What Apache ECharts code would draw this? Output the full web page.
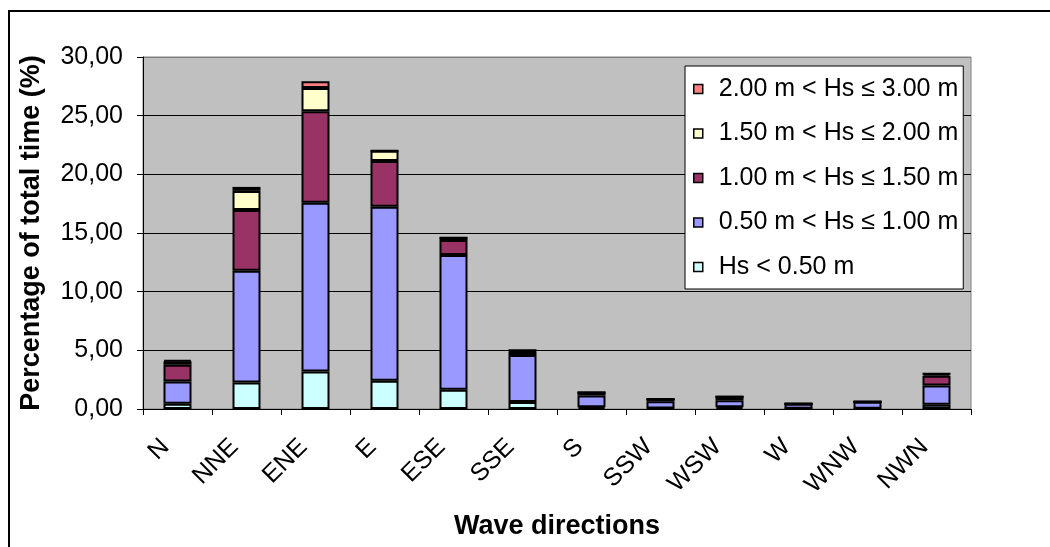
<!DOCTYPE html>
<html>
<head>
<meta charset="utf-8">
<script src="https://cdn.jsdelivr.net/npm/echarts@6/dist/echarts.min.js"></script>
<style>
  html, body { margin: 0; padding: 0; background: #fff; }
  #chart { width: 1050px; height: 547px; }
</style>
</head>
<body>
<div id="chart"></div>
<script>
// Wave direction sectors
const directions = ['N', 'NNE', 'ENE', 'E', 'ESE', 'SSE', 'S', 'SSW', 'WSW', 'W', 'WNW', 'NWN'];

// Percentage of total time per significant wave height class
const hsBelow050  = [0.45, 2.26, 3.20, 2.41, 1.64, 0.60, 0.15, 0.05, 0.15, 0.03, 0.02, 0.37];
const hs050to100  = [1.90, 9.53, 14.37, 14.82, 11.48, 4.00, 1.00, 0.60, 0.60, 0.42, 0.60, 1.63];
const hs100to150  = [1.42, 5.16, 7.80, 3.91, 1.28, 0.30, 0.25, 0.20, 0.30, 0, 0, 0.83];
const hs150to200  = [0.30, 1.64, 1.98, 0.86, 0.20, 0.10, 0, 0, 0, 0, 0, 0.17];
const hs200to300  = [0.10, 0.34, 0.59, 0, 0, 0, 0, 0, 0, 0, 0, 0];

const classNames = [
  'Hs < 0.50 m',
  '0.50 m < Hs \u2264 1.00 m',
  '1.00 m < Hs \u2264 1.50 m',
  '1.50 m < Hs \u2264 2.00 m',
  '2.00 m < Hs \u2264 3.00 m'
];
const classColors = ['#CCFFFF', '#9999FF', '#993366', '#FFFFCC', '#FF8080'];
const classValues = [hsBelow050, hs050to100, hs100to150, hs150to200, hs200to300];

const yTicks = [0, 5, 10, 15, 20, 25, 30];

const FONT = '"Liberation Sans", Arial, sans-serif';

const chart = echarts.init(document.getElementById('chart'), null, { renderer: 'canvas' });

const series = classNames.map((name, i) => ({
  name: name,
  type: 'bar',
  stack: 'total',
  barWidth: 28,
  data: classValues[i],
  itemStyle: { color: classColors[i], borderColor: '#000', borderWidth: 2 },
  emphasis: { disabled: true }
}));

chart.setOption({
  animation: false,
  backgroundColor: '#fff',
  textStyle: { fontFamily: FONT },
  graphic: [{
    type: 'rect',
    shape: { x: 9, y: 11, width: 1100, height: 600 },
    style: { fill: 'none', stroke: '#000', lineWidth: 2 },
    z: 100,
    silent: true
  }],
  grid: {
    left: 143, right: 79, top: 57, bottom: 138,
    show: true,
    backgroundColor: '#C0C0C0',
    borderColor: '#808080',
    borderWidth: 1
  },
  legend: {
    orient: 'vertical',
    left: 685, top: 66,
    data: classNames.slice().reverse(),
    backgroundColor: '#fff',
    borderColor: '#000',
    borderWidth: 1,
    padding: [10.5, 5, 9.5, 8],
    itemWidth: 9,
    itemHeight: 9,
    itemGap: 19.5,
    icon: 'rect',
    itemStyle: { borderColor: '#000', borderWidth: 1.5 },
    textStyle: { fontFamily: FONT, fontSize: 25, color: '#000', lineHeight: 25, padding: [0, 0, 0, 11] },
    selectedMode: false
  },
  xAxis: {
    type: 'category',
    data: directions,
    boundaryGap: true,
    name: 'Wave directions',
    nameLocation: 'middle',
    nameGap: 104,
    nameTextStyle: { fontFamily: FONT, fontSize: 27, fontWeight: 'bold', color: '#000' },
    axisLine: { show: true, lineStyle: { color: '#000', width: 1 } },
    axisTick: { show: true, length: 6, lineStyle: { color: '#000' } },
    axisLabel: {
      rotate: 45, interval: 0, margin: 22,
      padding: [0, 17, 0, 0],
      fontFamily: FONT, fontSize: 25, color: '#000'
    },
    splitLine: { show: false }
  },
  yAxis: {
    type: 'value',
    min: 0, max: 30, interval: 5,
    name: 'Percentage of total time (%)',
    nameLocation: 'middle',
    nameGap: 98,
    nameRotate: 90,
    nameTextStyle: { fontFamily: FONT, fontSize: 27, fontWeight: 'bold', color: '#000' },
    axisLine: { show: true, lineStyle: { color: '#000', width: 1 } },
    axisTick: { show: true, length: 6, lineStyle: { color: '#000' } },
    axisLabel: {
      margin: 20,
      fontFamily: FONT, fontSize: 25, color: '#000',
      formatter: v => yTicks.includes(v) ? v.toFixed(2).replace('.', ',') : ''
    },
    splitLine: {
      show: true,
      lineStyle: { color: ['#000', '#000', '#000', '#000', '#000', '#000', '#808080'], width: 1 }
    }
  },
  series: series
});
</script>
</body>
</html>
